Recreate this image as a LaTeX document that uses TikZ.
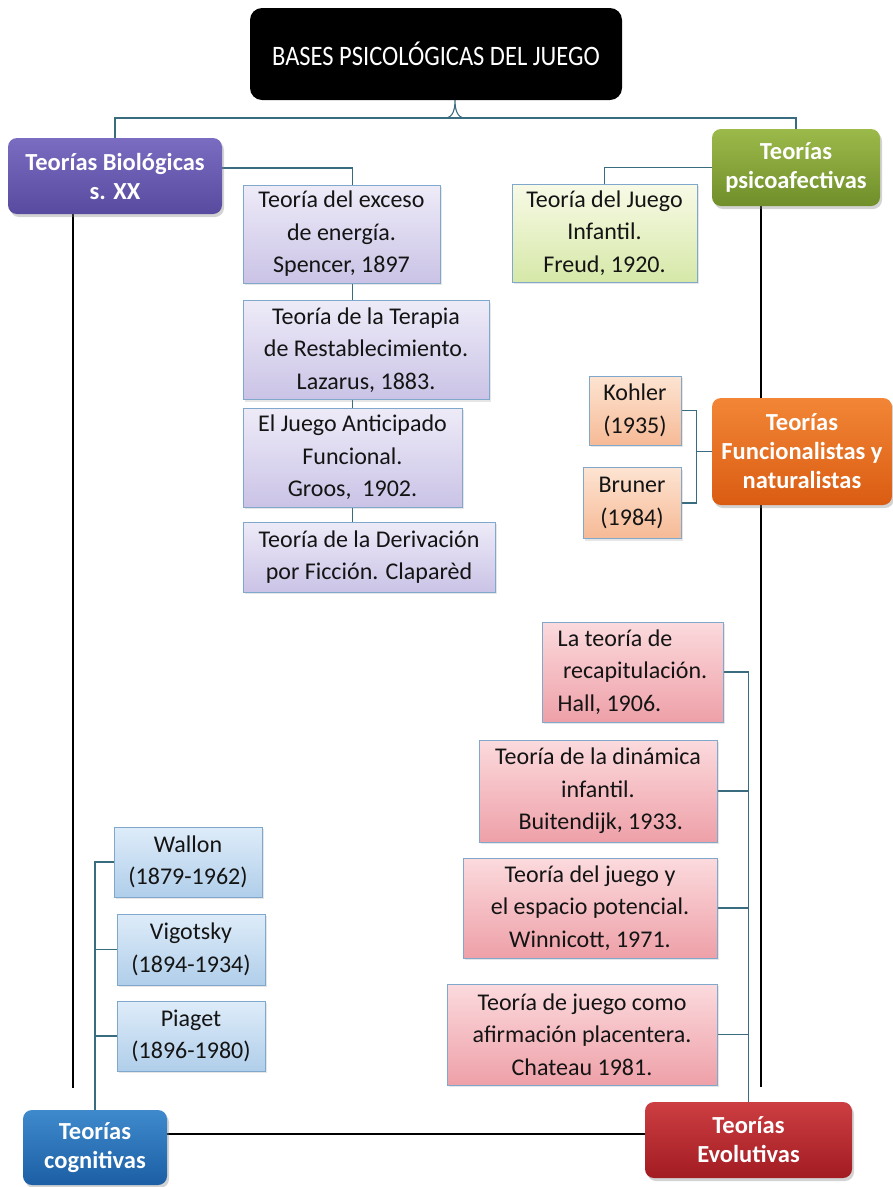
\documentclass[tikz,border=0pt]{standalone}
\usepackage{fontspec}
\setmainfont{Carlito}
\usetikzlibrary{calc,backgrounds,shadows}
\definecolor{bioTop}{RGB}{122,108,192}
\definecolor{bioBot}{RGB}{88,74,158}
\definecolor{bioLeafTop}{RGB}{238,235,248}
\definecolor{bioLeafBot}{RGB}{202,195,230}
\definecolor{psyTop}{RGB}{156,186,74}
\definecolor{psyBot}{RGB}{112,142,42}
\definecolor{psyLeafTop}{RGB}{248,250,230}
\definecolor{psyLeafBot}{RGB}{214,232,168}
\definecolor{funTop}{RGB}{242,134,54}
\definecolor{funBot}{RGB}{218,92,18}
\definecolor{funLeafTop}{RGB}{253,228,210}
\definecolor{funLeafBot}{RGB}{246,186,150}
\definecolor{evoTop}{RGB}{204,62,66}
\definecolor{evoBot}{RGB}{162,28,34}
\definecolor{evoLeafTop}{RGB}{251,218,221}
\definecolor{evoLeafBot}{RGB}{238,160,168}
\definecolor{cogTop}{RGB}{62,138,204}
\definecolor{cogBot}{RGB}{28,94,164}
\definecolor{cogLeafTop}{RGB}{222,236,249}
\definecolor{cogLeafBot}{RGB}{176,206,234}
\definecolor{leafEdge}{RGB}{128,168,204}
\definecolor{linkTeal}{RGB}{58,108,128}
\newcommand{\leaffont}{\fontsize{24}{32.5}\selectfont}
\newcommand{\headfont}{\fontsize{24.5}{29}\selectfont\bfseries}
\tikzset{
  rootbox/.style={fill=black, rounded corners=12pt, text=white, align=center,
    font=\fontsize{24.5}{29}\selectfont, minimum width=372pt, minimum height=92pt},
  head/.style={rounded corners=9pt, text=white, align=center, font=\headfont, inner sep=2pt,
    drop shadow={shadow xshift=2pt, shadow yshift=-3pt, opacity=.35}},
  bioHead/.style={head, top color=bioTop, bottom color=bioBot},
  psyHead/.style={head, top color=psyTop, bottom color=psyBot},
  funHead/.style={head, top color=funTop, bottom color=funBot},
  evoHead/.style={head, top color=evoTop, bottom color=evoBot},
  cogHead/.style={head, top color=cogTop, bottom color=cogBot},
  leaf/.style={draw=leafEdge, line width=0.8pt, align=center, font=\leaffont, inner sep=2pt,
    text=black!92, drop shadow={shadow xshift=1.5pt, shadow yshift=-2pt, opacity=.2}},
  bioLeaf/.style={leaf, top color=bioLeafTop, bottom color=bioLeafBot},
  psyLeaf/.style={leaf, top color=psyLeafTop, bottom color=psyLeafBot},
  funLeaf/.style={leaf, top color=funLeafTop, bottom color=funLeafBot},
  evoLeaf/.style={leaf, top color=evoLeafTop, bottom color=evoLeafBot},
  cogLeaf/.style={leaf, top color=cogLeafTop, bottom color=cogLeafBot},
  link/.style={draw=linkTeal, line width=1.1pt},
  spine/.style={draw=black, line width=1.3pt}
}

\begin{document}
\begin{tikzpicture}[x=1pt,y=-1pt]
  \useasboundingbox (0,0) rectangle (893,1187);
  % title
  \node[rootbox] (root) at (436,54) {\scalebox{1}[1.15]{BASES PSICOLÓGICAS DEL JUEGO}};
  % theory families
  \node[bioHead, minimum width=214pt, minimum height=76pt] (bio) at (115,176) {Teorías Biológicas\\s. XX};
  \node[psyHead, minimum width=168pt, minimum height=77pt] (psy) at (796,167.5) {Teorías\\psicoafectivas};
  \node[funHead, minimum width=180pt, minimum height=107pt] (func) at (802,451.5) {Teorías\\Funcionalistas y\\naturalistas};
  \node[evoHead, minimum width=207pt, minimum height=76pt] (evol) at (748.5,1140) {Teorías\\Evolutivas};
  \node[cogHead, minimum width=144pt, minimum height=75pt] (cog) at (95,1147.5) {Teorías\\cognitivas};
  % biological theories
  \node[bioLeaf, minimum width=197pt, minimum height=98pt] (spencer) at (341.5,234) {Teoría del exceso\\de energía.\\Spencer, 1897};
  \node[bioLeaf, minimum width=246pt, minimum height=99pt] (lazarus) at (366,350) {Teoría de la Terapia\\de Restablecimiento.\\Lazarus, 1883.};
  \node[bioLeaf, minimum width=219pt, minimum height=99pt] (groos) at (352.5,457.5) {El Juego Anticipado\\Funcional.\\Groos,\ \ 1902.};
  \node[bioLeaf, minimum width=252pt, minimum height=70pt] (clapared) at (369,557) {Teoría de la Derivación\\por Ficción. Claparèd};
  % psychoaffective
  \node[psyLeaf, minimum width=185pt, minimum height=98pt] (freud) at (604.5,233) {Teoría del Juego\\Infantil.\\Freud, 1920.};
  % functionalist
  \node[funLeaf, minimum width=92pt, minimum height=69pt] (kohler) at (635,410.5) {Kohler\\(1935)};
  \node[funLeaf, minimum width=98pt, minimum height=71pt] (bruner) at (632,503) {Bruner\\(1984)};
  % evolutionary
  \node[evoLeaf, align=left, minimum width=181pt, minimum height=100pt] (hall) at (632.5,672) {La teoría de\\\ recapitulación.\\Hall, 1906.};
  \node[evoLeaf, minimum width=238pt, minimum height=102pt] (buit) at (598,791) {Teoría de la dinámica\\infantil.\\\ Buitendijk, 1933.};
  \node[evoLeaf, minimum width=254pt, minimum height=100pt] (winni) at (590,908) {Teoría del juego y\\el espacio potencial.\\Winnicott, 1971.};
  \node[evoLeaf, minimum width=270pt, minimum height=101pt] (chat) at (582,1034.5) {Teoría de juego como\\afirmación placentera.\\Chateau 1981.};
  % cognitive
  \node[cogLeaf, minimum width=148pt, minimum height=70pt] (wallon) at (188,862) {Wallon\\(1879-1962)};
  \node[cogLeaf, minimum width=148pt, minimum height=71pt] (vigot) at (191,949.5) {Vigotsky\\(1894-1934)};
  \node[cogLeaf, minimum width=148pt, minimum height=70pt] (piaget) at (191,1036) {Piaget\\(1896-1980)};

  \coordinate (split) at (455,118);
  \coordinate (bioFoot) at (73,1088);
  \coordinate (psyFoot) at (761,1087);

  \begin{scope}[on background layer]
    \draw[link] (bio.north) |- (split) -| (psy.north);
    \draw[link] ($(split)+(-10,0)$) .. controls +(8,0) and +(0,9) .. (split |- root.south)
      .. controls +(0,9) and +(-8,0) .. ($(split)+(10,0)$);
    \draw[link] ($(bio.east)+(0,-8)$) -| (groos.north |- spencer.north);
    \draw[link] (groos.north |- spencer.south) -- (groos.north |- clapared.north);
    \draw[link] (psy.west) -| (freud.north);
    \draw[link] (kohler.east) -| ($(func.west)+(-15,0)$) |- (bruner.east);
    \draw[link] (func.west) -- ++(-15,0);
    \draw[link] (evol.north) |- (hall.east);
    \draw[link] (buit.east) -- (buit.east -| evol.north);
    \draw[link] (winni.east) -- (winni.east -| evol.north);
    \draw[link] (chat.east) -- (chat.east -| evol.north);
    \draw[link] (cog.north) |- (wallon.west);
    \draw[link] (vigot.west) -- (vigot.west -| cog.north);
    \draw[link] (piaget.west) -- (piaget.west -| cog.north);
    \draw[spine] (bio.south -| bioFoot) -- (bioFoot);
    \draw[spine] (psy.south -| psyFoot) -- (psyFoot);
    \draw[spine] ($(evol.west)+(0,-6)$) -- ($(cog.east |- evol.west)+(0,-6)$);
  \end{scope}
\end{tikzpicture}
\end{document}
